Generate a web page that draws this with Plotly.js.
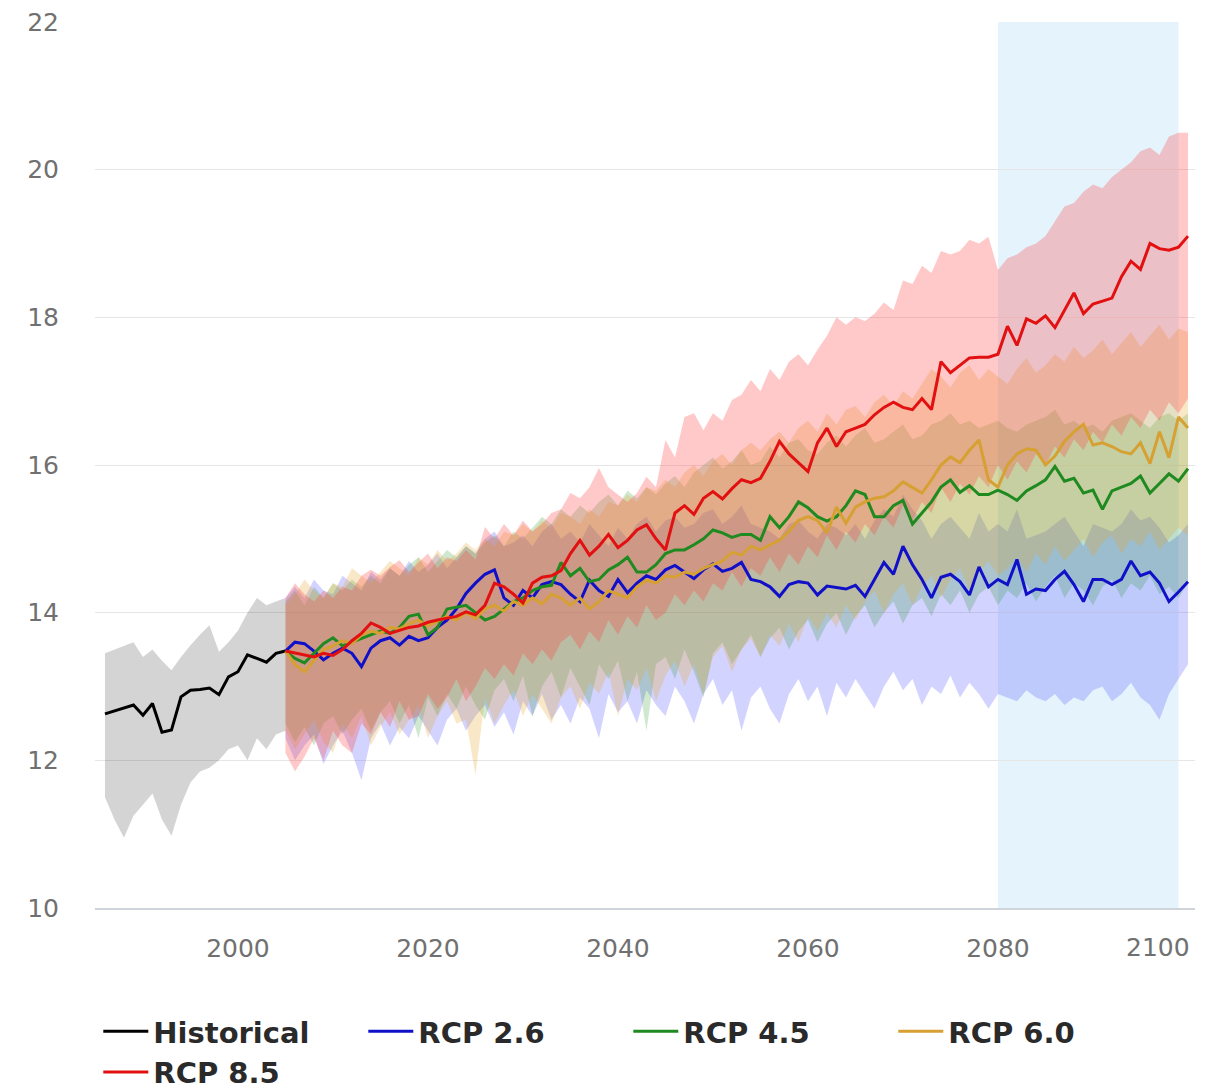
<!DOCTYPE html>
<html><head><meta charset="utf-8">
<script src="https://cdn.plot.ly/plotly-3.0.1.min.js"></script>
<style>html,body{margin:0;padding:0;background:#fff}#chart{width:1206px;height:1091px}</style>
</head><body><div id="chart"></div>
<script>
const histYears = [1986,1987,1988,1989,1990,1991,1992,1993,1994,1995,1996,1997,1998,1999,2000,2001,2002,2003,2004,2005];
const histMean  = [12.63,12.67,12.72,12.75,12.61,12.77,12.38,12.41,12.86,12.95,12.96,12.98,12.89,13.13,13.2,13.43,13.38,13.33,13.45,13.48];
const histUpper = [13.45,13.5,13.55,13.6,13.4,13.5,13.35,13.22,13.4,13.56,13.7,13.83,13.47,13.6,13.76,14.0,14.2,14.1,14.15,14.2];
const histLower = [11.5,11.2,10.95,11.25,11.4,11.55,11.2,10.98,11.4,11.7,11.85,11.9,12.0,12.15,12.2,12.0,12.3,12.15,12.35,12.4];

const projYears = [2005,2006,2007,2008,2009,2010,2011,2012,2013,2014,
  2015,2016,2017,2018,2019,2020,2021,2022,2023,2024,
  2025,2026,2027,2028,2029,2030,2031,2032,2033,2034,
  2035,2036,2037,2038,2039,2040,2041,2042,2043,2044,
  2045,2046,2047,2048,2049,2050,2051,2052,2053,2054,
  2055,2056,2057,2058,2059,2060,2061,2062,2063,2064,
  2065,2066,2067,2068,2069,2070,2071,2072,2073,2074,
  2075,2076,2077,2078,2079,2080,2081,2082,2083,2084,
  2085,2086,2087,2088,2089,2090,2091,2092,2093,2094,
  2095,2096,2097,2098,2099,2100];

const rcp26Mean = [13.48,13.6,13.58,13.48,13.36,13.45,13.52,13.45,13.27,13.52,
  13.62,13.66,13.56,13.68,13.62,13.66,13.8,13.9,14.05,14.26,
  14.4,14.52,14.58,14.2,14.1,14.3,14.2,14.38,14.42,14.38,
  14.25,14.15,14.44,14.3,14.22,14.45,14.27,14.4,14.5,14.45,
  14.58,14.64,14.55,14.46,14.58,14.66,14.56,14.6,14.68,14.45,
  14.42,14.35,14.22,14.38,14.42,14.4,14.24,14.36,14.34,14.32,
  14.37,14.22,14.45,14.68,14.52,14.9,14.65,14.45,14.2,14.48,
  14.52,14.42,14.24,14.62,14.35,14.45,14.38,14.72,14.25,14.32,
  14.3,14.45,14.56,14.38,14.15,14.45,14.45,14.38,14.45,14.7,
  14.5,14.55,14.4,14.15,14.28,14.42];
const rcp26Upper = [14.2,14.35,14.2,14.45,14.3,14.25,14.5,14.4,14.3,14.55,
  14.45,14.6,14.5,14.7,14.55,14.65,14.8,14.6,14.75,14.9,
  14.8,15.0,15.1,14.9,14.95,15.05,14.9,15.1,15.2,15.0,
  15.1,14.95,15.2,15.05,14.9,15.15,15.0,15.2,15.3,15.1,
  15.25,15.3,15.15,15.2,15.35,15.4,15.2,15.3,15.45,15.2,
  15.15,15.1,15.0,15.2,15.25,15.1,15.0,15.2,15.15,15.05,
  15.2,15.0,15.25,15.4,15.3,15.6,15.4,15.25,15.0,15.2,
  15.3,15.15,15.0,15.35,15.1,15.2,15.1,15.4,15.0,15.05,
  15.1,15.2,15.3,15.1,14.9,15.2,15.15,15.1,15.2,15.4,
  15.25,15.3,15.15,14.95,15.05,15.2];
const rcp26Lower = [12.3,12.0,12.2,12.35,11.95,12.2,12.4,12.1,11.73,12.3,
  12.5,12.2,12.45,12.3,12.6,12.4,12.2,12.55,12.7,12.4,
  12.6,12.75,12.45,12.65,12.35,12.8,12.6,12.9,12.55,12.75,
  12.5,12.85,12.7,12.3,12.9,12.65,12.8,12.5,12.95,12.75,
  12.6,13.0,12.8,12.5,12.9,13.1,12.75,12.95,12.4,12.85,
  13.0,12.7,12.5,12.9,13.1,12.8,13.0,12.6,13.05,12.85,
  13.1,12.9,12.7,13.0,13.2,12.95,13.1,12.75,13.0,12.9,
  13.15,12.85,13.05,12.9,12.7,12.9,12.85,12.8,12.95,12.85,
  12.8,12.9,12.75,12.85,12.8,12.95,13.0,12.8,12.9,13.05,
  12.85,12.75,12.55,12.9,13.1,13.3];

const rcp45Mean = [13.48,13.38,13.32,13.45,13.58,13.66,13.55,13.6,13.65,13.7,
  13.75,13.72,13.8,13.95,13.98,13.7,13.8,14.05,14.08,14.1,
  14.0,13.9,13.95,14.05,14.15,14.2,14.3,14.35,14.37,14.68,
  14.5,14.6,14.42,14.45,14.58,14.65,14.75,14.55,14.55,14.65,
  14.8,14.85,14.85,14.92,15.0,15.12,15.08,15.02,15.06,15.06,
  14.98,15.3,15.15,15.3,15.5,15.42,15.3,15.24,15.3,15.45,
  15.65,15.6,15.3,15.3,15.45,15.52,15.2,15.35,15.5,15.7,
  15.8,15.63,15.72,15.6,15.6,15.66,15.6,15.52,15.65,15.72,
  15.8,15.98,15.78,15.82,15.62,15.66,15.4,15.65,15.7,15.75,
  15.85,15.62,15.75,15.88,15.78,15.95];
const rcp45Upper = [14.15,14.3,14.1,14.35,14.2,14.4,14.3,14.45,14.35,14.5,
  14.4,14.6,14.5,14.65,14.75,14.55,14.7,14.85,14.75,14.9,
  14.8,14.95,15.05,14.9,15.1,15.0,15.15,15.3,15.2,15.4,
  15.3,15.45,15.35,15.5,15.6,15.45,15.65,15.55,15.7,15.6,
  15.75,15.85,15.7,15.9,16.0,16.1,15.95,16.05,16.2,16.0,
  16.05,16.25,16.1,16.3,16.35,16.2,16.15,16.3,16.4,16.25,
  16.4,16.5,16.3,16.35,16.45,16.55,16.35,16.4,16.55,16.6,
  16.7,16.55,16.6,16.5,16.55,16.6,16.5,16.45,16.55,16.6,
  16.65,16.75,16.55,16.6,16.5,16.55,16.45,16.6,16.65,16.7,
  16.6,16.5,16.65,16.7,16.6,16.7];
const rcp45Lower = [12.5,12.25,12.45,12.2,12.5,12.6,12.35,12.55,12.7,12.4,
  12.65,12.8,12.5,12.75,12.3,12.85,12.6,12.9,12.7,13.0,
  12.75,12.55,12.95,13.1,12.8,13.15,12.6,13.0,13.2,12.85,
  13.25,13.0,12.75,13.3,13.1,13.35,12.8,13.2,12.4,13.3,
  13.4,13.1,13.5,13.2,12.85,13.45,13.6,13.3,13.5,13.7,
  13.4,13.65,13.8,13.5,13.75,13.9,13.6,13.85,14.0,13.7,
  13.95,14.1,13.8,14.0,14.15,13.85,14.1,14.2,13.95,14.25,
  14.1,14.3,14.0,14.25,14.35,14.1,14.3,14.2,14.4,14.15,
  14.35,14.5,14.2,14.4,14.3,14.1,14.35,14.45,14.2,14.4,
  14.3,14.5,14.25,14.35,14.2,14.4];

const rcp60Mean = [13.48,13.3,13.2,13.35,13.5,13.55,13.62,13.58,13.7,13.75,
  13.72,13.8,13.78,13.85,13.9,13.82,13.88,13.95,13.9,14.0,
  13.92,14.05,14.1,14.02,14.15,14.1,14.2,14.12,14.25,14.2,
  14.1,14.2,14.05,14.15,14.3,14.25,14.2,14.35,14.44,14.4,
  14.5,14.48,14.55,14.52,14.6,14.65,14.7,14.82,14.78,14.9,
  14.85,14.92,14.98,15.1,15.25,15.3,15.25,15.08,15.43,15.21,
  15.43,15.5,15.55,15.57,15.65,15.77,15.7,15.62,15.8,16.0,
  16.11,16.03,16.2,16.34,15.8,15.7,16.0,16.15,16.22,16.2,
  16.0,16.12,16.32,16.45,16.55,16.27,16.3,16.25,16.18,16.15,
  16.3,16.02,16.45,16.1,16.65,16.5];
const rcp60Upper = [14.1,14.25,14.45,14.3,14.2,14.4,14.35,14.6,14.5,14.4,
  14.55,14.7,14.6,14.5,14.75,14.65,14.85,14.7,14.8,14.95,
  14.85,15.0,14.9,15.1,15.05,15.2,15.1,15.25,15.15,15.35,
  15.3,15.2,15.4,15.3,15.5,15.45,15.6,15.5,15.7,15.65,
  15.8,15.7,15.9,16.0,15.85,16.05,16.15,16.0,16.2,16.3,
  16.2,16.35,16.45,16.3,16.5,16.6,16.45,16.7,16.55,16.75,
  16.8,16.65,16.85,16.95,16.8,17.0,16.9,17.1,17.3,17.2,
  17.05,17.25,17.35,17.15,17.3,17.2,17.1,17.3,17.45,17.25,
  17.35,17.5,17.4,17.6,17.45,17.55,17.7,17.5,17.65,17.8,
  17.6,17.75,17.9,17.7,17.85,17.8];
const rcp60Lower = [12.4,12.15,12.35,12.55,12.25,12.1,12.5,12.3,12.6,12.2,
  12.45,12.65,12.35,12.55,12.75,12.3,12.6,12.8,12.5,12.55,
  11.8,12.85,12.5,12.75,12.95,12.6,12.9,12.7,12.5,12.85,
  13.0,12.7,13.05,12.9,13.2,12.6,13.1,12.95,13.25,12.8,
  13.15,13.35,13.0,13.3,12.9,13.4,13.55,13.2,13.5,13.65,
  13.4,13.7,13.55,13.85,13.6,13.95,13.75,14.0,13.8,14.1,
  13.9,14.15,14.3,14.0,14.25,14.4,14.1,14.35,14.5,14.2,
  14.45,14.6,14.3,14.55,14.7,14.5,14.6,14.75,14.55,14.8,
  14.65,14.9,14.7,14.85,15.0,14.75,14.95,15.05,14.8,15.0,
  14.9,15.1,14.85,15.0,15.15,15.05];

const rcp85Mean = [13.48,13.45,13.42,13.40,13.45,13.42,13.5,13.62,13.72,13.86,
  13.8,13.72,13.76,13.8,13.82,13.87,13.9,13.93,13.95,14.01,
  13.97,14.1,14.4,14.35,14.25,14.13,14.4,14.48,14.5,14.57,
  14.8,14.98,14.78,14.9,15.06,14.88,14.98,15.12,15.19,15.0,
  14.85,15.35,15.45,15.33,15.55,15.64,15.54,15.68,15.8,15.76,
  15.82,16.05,16.32,16.15,16.03,15.91,16.3,16.5,16.25,16.45,
  16.5,16.55,16.68,16.78,16.85,16.78,16.75,16.9,16.75,17.4,
  17.25,17.35,17.45,17.46,17.46,17.5,17.88,17.62,17.98,17.92,
  18.02,17.86,18.1,18.33,18.05,18.18,18.22,18.26,18.55,18.76,
  18.65,19.0,18.93,18.91,18.95,19.1];
const rcp85Upper = [14.2,14.4,14.25,14.15,14.3,14.2,14.35,14.3,14.5,14.58,
  14.5,14.62,14.71,14.55,14.68,14.8,14.6,14.75,14.7,14.85,
  14.72,15.16,15.0,15.2,15.05,15.25,15.1,15.2,15.35,15.4,
  15.62,15.55,15.7,15.96,15.7,15.6,15.5,15.62,15.84,15.7,
  16.34,16.1,16.65,16.7,16.47,16.7,16.6,16.88,16.95,17.15,
  17.0,17.3,17.15,17.4,17.5,17.35,17.56,17.75,18.0,17.9,
  18.0,17.95,18.05,18.2,18.1,18.5,18.45,18.7,18.6,18.9,
  18.85,18.9,19.05,19.0,19.09,18.64,18.8,18.85,18.95,19.0,
  19.1,19.3,19.5,19.55,19.7,19.8,19.75,19.9,20.0,20.1,
  20.25,20.3,20.2,20.45,20.5,20.5];
const rcp85Lower = [12.1,11.85,12.05,12.3,12.0,12.4,12.2,12.1,12.5,12.35,
  12.65,12.45,12.8,12.55,12.6,12.9,12.7,12.85,13.1,12.8,
  13.0,13.25,13.1,13.3,13.15,13.45,13.3,13.5,13.35,13.6,
  13.7,13.5,13.75,13.6,13.9,13.7,13.95,13.8,14.1,13.9,
  14.0,14.25,14.1,14.3,14.15,14.4,14.3,14.55,14.35,14.6,
  14.5,14.75,14.55,14.8,14.65,14.9,14.75,15.05,14.85,15.1,
  14.95,15.2,15.05,15.3,15.15,15.45,15.25,15.5,15.35,15.7,
  15.5,15.75,15.6,15.85,15.7,16.0,15.8,16.05,15.9,16.15,
  16.0,16.25,16.1,16.35,16.2,16.45,16.3,16.55,16.4,16.65,
  16.5,16.75,16.6,16.85,16.7,16.9];

const seriesNames = ['Historical','RCP 2.6','RCP 4.5','RCP 6.0','RCP 8.5'];
const xTickVals = [2000,2020,2040,2060,2080];
const xTickText = ['2000','2020','2040','2060','2080'];
const lastXTick = 2100;
const yTickVals = [10,12,14,16,18,20,22];
const periodStart = 2080, periodEnd = 2099;

const lineColors = ['#000000','#1010c8','#1f8a1f','#d6a032','#e21010'];
const bandColors = ['rgba(0,0,0,0.17)','rgba(70,70,255,0.24)','rgba(20,140,20,0.2)','rgba(230,165,40,0.26)','rgba(255,60,60,0.28)'];

const groups = [
  [histYears, histMean, histLower, histUpper],
  [projYears, rcp26Mean, rcp26Lower, rcp26Upper],
  [projYears, rcp45Mean, rcp45Lower, rcp45Upper],
  [projYears, rcp60Mean, rcp60Lower, rcp60Upper],
  [projYears, rcp85Mean, rcp85Lower, rcp85Upper]
];

const traces = [];
groups.forEach((g, i) => {
  traces.push({x:g[0], y:g[2], type:'scatter', mode:'lines', line:{width:0, color:bandColors[i]}, showlegend:false, hoverinfo:'skip'});
  traces.push({x:g[0], y:g[3], type:'scatter', mode:'lines', line:{width:0, color:bandColors[i]}, fill:'tonexty', fillcolor:bandColors[i], showlegend:false, hoverinfo:'skip'});
});
groups.forEach((g, i) => {
  traces.push({x:g[0], y:g[1], type:'scatter', mode:'lines', name:seriesNames[i], line:{width:3, color:lineColors[i]}});
});

const tickFont = {family:'DejaVu Sans', size:25, color:'#707070'};
const layout = {
  width:1206, height:1091,
  margin:{l:95, r:11, t:22, b:183, autoexpand:false},
  paper_bgcolor:'#ffffff', plot_bgcolor:'#ffffff',
  showlegend:true,
  xaxis:{range:[1984.95,2100.74], tickmode:'array', tickvals:xTickVals, ticktext:xTickText,
    showgrid:false, zeroline:false, showline:true, linecolor:'#cfd4da', linewidth:1.5,
    ticks:'', tickfont:tickFont, ticklabelstandoff:17, automargin:false, fixedrange:true},
  yaxis:{range:[10,22], tickmode:'array', tickvals:yTickVals, showgrid:true, gridcolor:'#e6e6e6', gridwidth:1,
    zeroline:false, showline:false, ticks:'', tickfont:tickFont, ticklabelstandoff:35, automargin:false, fixedrange:true},
  shapes:[{type:'rect', xref:'x', yref:'paper', x0:periodStart, x1:periodEnd, y0:0, y1:1,
    fillcolor:'#e5f3fc', line:{width:0}, layer:'below'}],
  annotations:[{x:lastXTick, xref:'x', y:0, yref:'paper', yanchor:'top', xanchor:'right', yshift:-23, xshift:4,
    text:String(lastXTick), showarrow:false, font:tickFont}],
  legend:{orientation:'h', x:0.003, xanchor:'left', y:-0.1106, yanchor:'top', traceorder:'normal',
    font:{family:'DejaVu Sans', size:29, color:'#2a2a2a', weight:'bold'},
    entrywidth:205, entrywidthmode:'pixels', itemwidth:45, bgcolor:'rgba(0,0,0,0)'}
};

Plotly.newPlot('chart', traces, layout, {displayModeBar:false, staticPlot:true});
</script>
</body></html>
